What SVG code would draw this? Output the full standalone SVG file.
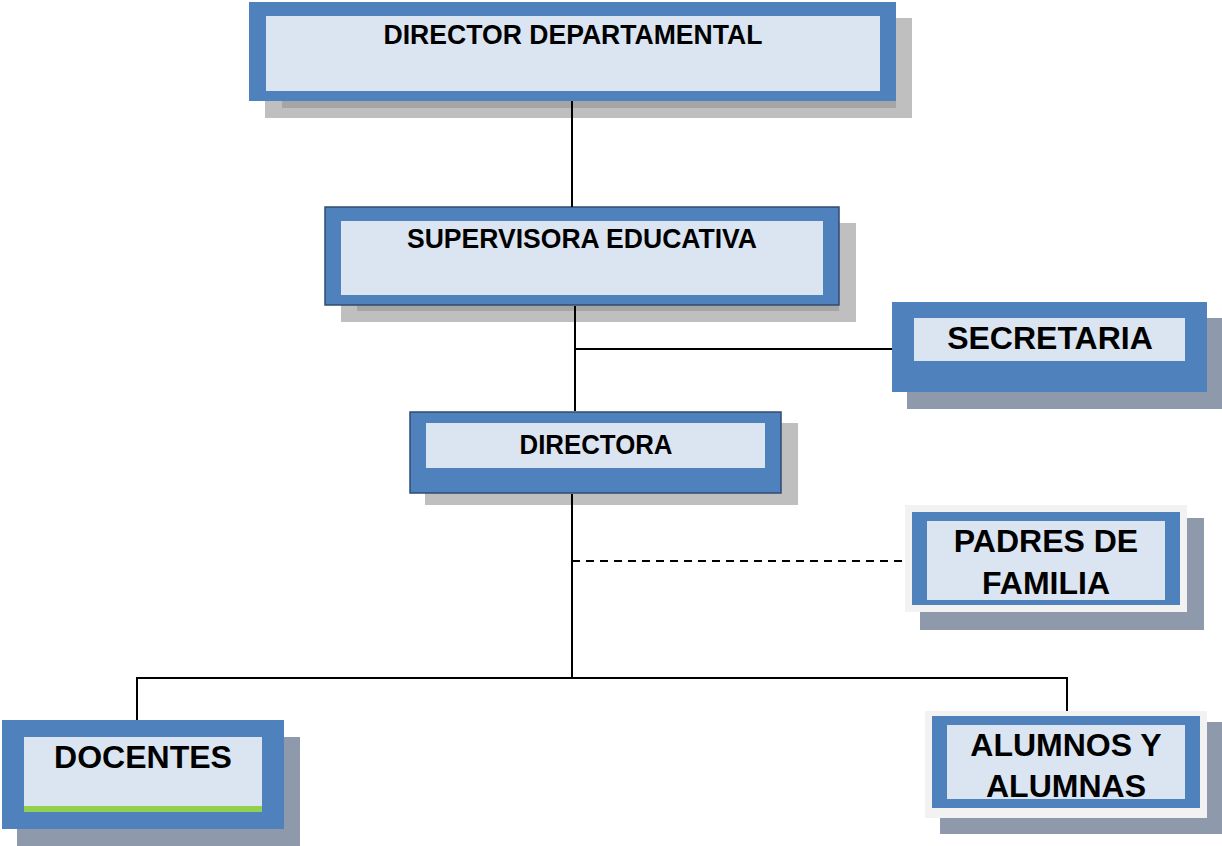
<svg xmlns="http://www.w3.org/2000/svg" width="1222" height="846" viewBox="0 0 1222 846">
<style>
.blue{fill:#4f81bd}
.inner{fill:#dbe5f1}
.sh1{fill:#bfbfbf}
.sh2{fill:#8e9aab}
.frame{fill:#f2f2f2}
.cal{font-family:"Liberation Sans",Arial,sans-serif;font-weight:bold;font-size:27px;fill:#000;text-anchor:middle}
.ar{font-family:"Liberation Sans",Arial,sans-serif;font-weight:bold;font-size:32px;fill:#000;text-anchor:middle}
.ln{stroke:#000;stroke-width:2;fill:none}
</style>
<rect width="1222" height="846" fill="#fff"/>
<g id="director-departamental">
<rect class="sh1" x="265" y="18" width="647" height="100"/>
<rect fill="#a5a5a5" x="282" y="101" width="614" height="7"/>
<rect class="blue" x="249" y="2" width="647" height="99"/>
<rect class="inner" x="266" y="16" width="614" height="75"/>
<text class="cal" x="573" y="44" textLength="379" lengthAdjust="spacingAndGlyphs">DIRECTOR DEPARTAMENTAL</text>
</g>
<g id="supervisora-educativa">
<rect class="sh1" x="341" y="223" width="515" height="99"/>
<rect fill="#a5a5a5" x="357" y="305" width="482" height="6"/>
<rect class="blue" x="325" y="207" width="514" height="98" stroke="#2f4b70" stroke-width="1.5"/>
<rect class="inner" x="341" y="221" width="482" height="74"/>
<text class="cal" x="582" y="248" textLength="350" lengthAdjust="spacingAndGlyphs">SUPERVISORA EDUCATIVA</text>
</g>
<g id="secretaria">
<rect class="sh2" x="907" y="318" width="315" height="91"/>
<rect class="blue" x="892" y="302" width="315" height="90"/>
<rect class="inner" x="914" y="318" width="271" height="43"/>
<text class="ar" x="1050" y="349">SECRETARIA</text>
</g>
<g id="directora">
<rect class="sh1" x="425" y="423" width="373" height="82"/>
<rect class="blue" x="410" y="412" width="371" height="81" stroke="#2f4b70" stroke-width="1.5"/>
<rect class="inner" x="426" y="423" width="339" height="45"/>
<text class="cal" x="596" y="454" textLength="153" lengthAdjust="spacingAndGlyphs">DIRECTORA</text>
</g>
<g id="padres-de-familia">
<rect class="sh2" x="920" y="518" width="284" height="112"/>
<rect class="frame" x="905" y="505" width="282" height="107"/>
<rect class="blue" x="912" y="512" width="268" height="93"/>
<rect class="inner" x="927" y="521" width="238" height="79"/>
<text class="ar" x="1046" y="552">PADRES DE</text>
<text class="ar" x="1046" y="594">FAMILIA</text>
</g>
<g id="docentes">
<rect class="sh2" x="17" y="737" width="283" height="109"/>
<rect class="blue" x="2" y="720" width="282" height="109"/>
<rect class="inner" x="24" y="737" width="238" height="75"/>
<rect fill="#92d050" x="24" y="806" width="238" height="6"/>
<text class="ar" x="143" y="768">DOCENTES</text>
</g>
<g id="alumnos-y-alumnas">
<rect class="sh2" x="940" y="722" width="282" height="112"/>
<rect class="frame" x="925" y="711" width="282" height="107"/>
<rect class="blue" x="932" y="716" width="268" height="92"/>
<rect class="inner" x="947" y="725" width="238" height="74"/>
<text class="ar" x="1066" y="756">ALUMNOS Y</text>
<text class="ar" x="1066" y="797">ALUMNAS</text>
</g>
<g id="connectors">
<line class="ln" x1="572" y1="101" x2="572" y2="207"/>
<line class="ln" x1="575" y1="306" x2="575" y2="411"/>
<line class="ln" x1="575" y1="349" x2="892" y2="349"/>
<line class="ln" x1="572" y1="494" x2="572" y2="678"/>
<line class="ln" x1="572" y1="561" x2="905" y2="561" stroke-dasharray="8,6"/>
<line class="ln" x1="137" y1="678" x2="1067" y2="678"/>
<line class="ln" x1="137" y1="677" x2="137" y2="720"/>
<line class="ln" x1="1067" y1="677" x2="1067" y2="711"/>
</g>
</svg>
